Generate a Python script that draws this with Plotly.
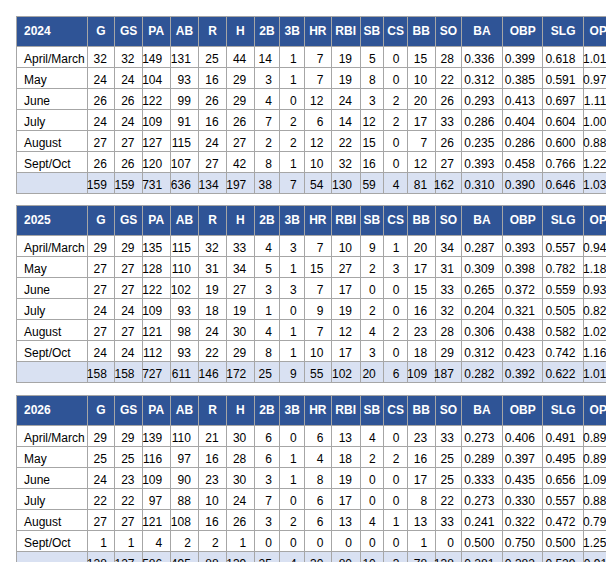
import plotly.graph_objects as go

months = ["April/March", "May", "June", "July", "August", "Sept/Oct", ""]
stats = ["G", "GS", "PA", "AB", "R", "H", "2B", "3B", "HR", "RBI", "SB", "CS", "BB", "SO", "BA", "OBP", "SLG", "OPS"]
years = ["2024", "2025", "2026"]

rows_2024 = [
    [32, 32, 149, 131, 25, 44, 14, 1, 7, 19, 5, 0, 15, 28, "0.336", "0.399", "0.618", "1.017"],
    [24, 24, 104, 93, 16, 29, 3, 1, 7, 19, 8, 0, 10, 22, "0.312", "0.385", "0.591", "0.976"],
    [26, 26, 122, 99, 26, 29, 4, 0, 12, 24, 3, 2, 20, 26, "0.293", "0.413", "0.697", "1.110"],
    [24, 24, 109, 91, 16, 26, 7, 2, 6, 14, 12, 2, 17, 33, "0.286", "0.404", "0.604", "1.008"],
    [27, 27, 127, 115, 24, 27, 2, 2, 12, 22, 15, 0, 7, 26, "0.235", "0.286", "0.600", "0.886"],
    [26, 26, 120, 107, 27, 42, 8, 1, 10, 32, 16, 0, 12, 27, "0.393", "0.458", "0.766", "1.225"],
    [159, 159, 731, 636, 134, 197, 38, 7, 54, 130, 59, 4, 81, 162, "0.310", "0.390", "0.646", "1.036"],
]
rows_2025 = [
    [29, 29, 135, 115, 32, 33, 4, 3, 7, 10, 9, 1, 20, 34, "0.287", "0.393", "0.557", "0.949"],
    [27, 27, 128, 110, 31, 34, 5, 1, 15, 27, 2, 3, 17, 31, "0.309", "0.398", "0.782", "1.180"],
    [27, 27, 122, 102, 19, 27, 3, 3, 7, 17, 0, 0, 15, 33, "0.265", "0.372", "0.559", "0.931"],
    [24, 24, 109, 93, 18, 19, 1, 0, 9, 19, 2, 0, 16, 32, "0.204", "0.321", "0.505", "0.826"],
    [27, 27, 121, 98, 24, 30, 4, 1, 7, 12, 4, 2, 23, 28, "0.306", "0.438", "0.582", "1.020"],
    [24, 24, 112, 93, 22, 29, 8, 1, 10, 17, 3, 0, 18, 29, "0.312", "0.423", "0.742", "1.165"],
    [158, 158, 727, 611, 146, 172, 25, 9, 55, 102, 20, 6, 109, 187, "0.282", "0.392", "0.622", "1.014"],
]
rows_2026 = [
    [29, 29, 139, 110, 21, 30, 6, 0, 6, 13, 4, 0, 23, 33, "0.273", "0.406", "0.491", "0.897"],
    [25, 25, 116, 97, 16, 28, 6, 1, 4, 18, 2, 2, 16, 25, "0.289", "0.397", "0.495", "0.891"],
    [24, 23, 109, 90, 23, 30, 3, 1, 8, 19, 0, 0, 17, 25, "0.333", "0.435", "0.656", "1.091"],
    [22, 22, 97, 88, 10, 24, 7, 0, 6, 17, 0, 0, 8, 22, "0.273", "0.330", "0.557", "0.887"],
    [27, 27, 121, 108, 16, 26, 3, 2, 6, 13, 4, 1, 13, 33, "0.241", "0.322", "0.472", "0.795"],
    [1, 1, 4, 2, 2, 1, 0, 0, 0, 0, 0, 0, 1, 0, "0.500", "0.750", "0.500", "1.250"],
    [128, 127, 586, 495, 88, 139, 25, 4, 30, 80, 10, 3, 78, 138, "0.281", "0.382", "0.529", "0.911"],
]
all_rows = [rows_2024, rows_2025, rows_2026]

W, H = 614, 562
HEAD_BG = "#2F5496"
TOTAL_BG = "#D9E1F2"
LINE = "#A6A6A6"
widths = [72, 28, 28, 28, 29, 28, 28, 26, 25, 27, 29, 24, 24, 28, 27, 41, 41, 41, 38]
tops = [8, 197, 387]
tbl_h = 22 + 7 * 21

fig = go.Figure()
for yr, rows, top in zip(years, all_rows, tops):
    cols = [months] + [[r[i] for r in rows] for i in range(len(stats))]
    fill_col = ["white"] * 6 + [TOTAL_BG]
    fig.add_trace(go.Table(
        domain=dict(x=[8 / W, 613 / W], y=[max(0, 1 - (top + tbl_h + 18) / H), 1 - top / H]),
        columnwidth=widths,
        header=dict(values=[f"<b>{yr}</b>"] + [f"<b>{s}</b>" for s in stats],
                    fill_color=HEAD_BG, line_color=LINE,
                    font=dict(color="white", size=12, family="Liberation Sans"),
                    align=["left"] + ["center"] * len(stats), height=22),
        cells=dict(values=cols, fill_color=[fill_col] * (len(stats) + 1), line_color=LINE,
                   font=dict(color="black", size=12, family="Liberation Sans"),
                   align=["left"] + ["right"] * len(stats), height=21),
    ))

fig.update_layout(width=W, height=H, margin=dict(l=0, r=0, t=0, b=0),
                  paper_bgcolor="white")
fig.write_html("out.html")
